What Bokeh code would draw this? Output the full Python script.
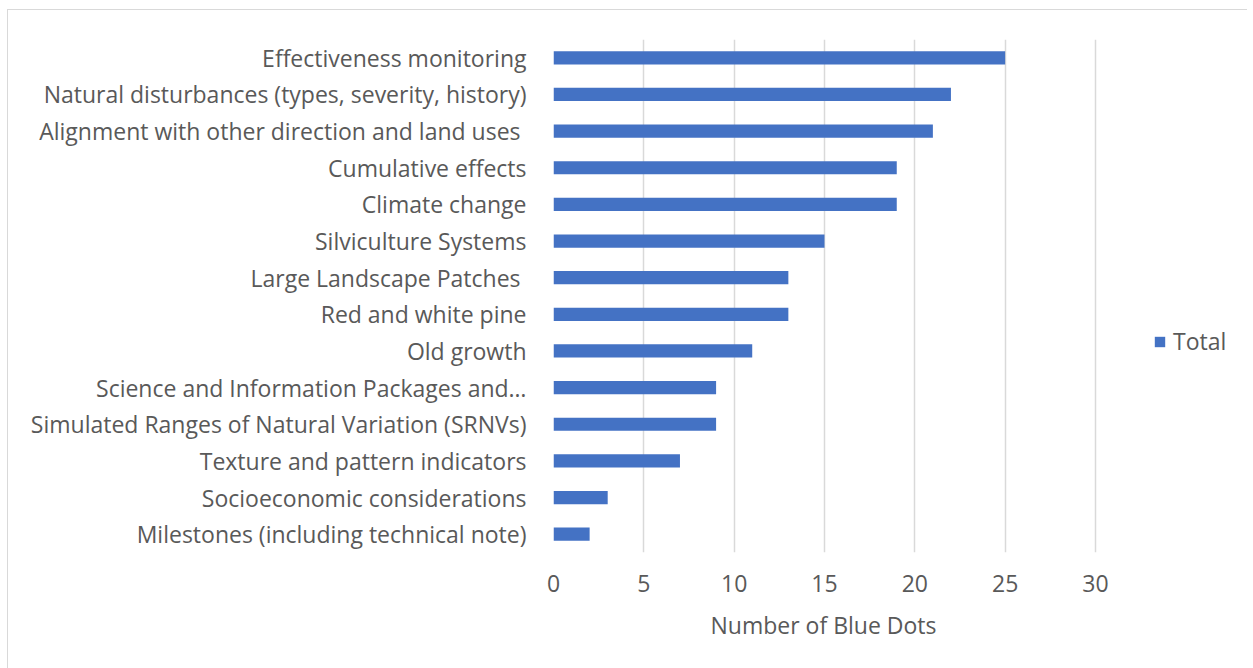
from bokeh.plotting import figure
from bokeh.models import ColumnDataSource, Legend, LegendItem, FactorRange, Title
from bokeh.embed import file_html
from bokeh.resources import INLINE

categories = [
    "Effectiveness monitoring",
    "Natural disturbances (types, severity, history)",
    "Alignment with other direction and land uses ",
    "Cumulative effects",
    "Climate change",
    "Silviculture Systems",
    "Large Landscape Patches ",
    "Red and white pine",
    "Old growth",
    "Science and Information Packages and…",
    "Simulated Ranges of Natural Variation (SRNVs)",
    "Texture and pattern indicators",
    "Socioeconomic considerations",
    "Milestones (including technical note)",
]
totals = [25, 22, 21, 19, 19, 15, 13, 13, 11, 9, 9, 7, 3, 2]
x_ticks = [0, 5, 10, 15, 20, 25, 30]
x_label = "Number of Blue Dots"
series_name = "Total"

FONT = "Open Sans"
FS = "23px"
TXT = "#595959"

src = ColumnDataSource(dict(cat=categories, total=totals))

# frame extends right of 30 to hold the legend; gridlines only at ticks 0..30
p = figure(
    y_range=FactorRange(factors=list(reversed(categories))),
    x_range=(0, 38.47),
    width=1240, height=659,
    output_backend="svg", toolbar_location=None,
    min_border_left=545, min_border_right=0,
    min_border_top=29, min_border_bottom=117,
)
p.styles = {"margin-left": "7px", "margin-top": "9px",
            "border-left": "1.5px solid #d9d9d9", "border-top": "1.5px solid #d9d9d9"}
p.outline_line_color = None
p.border_fill_color = "white"

r = p.hbar(y="cat", right="total", left=0, height=0.36, source=src,
           fill_color="#4472C4", line_color=None)

p.xaxis.ticker = x_ticks
p.xaxis.axis_line_color = None
p.xaxis.major_tick_line_color = None
p.xaxis.minor_tick_line_color = None
p.xaxis.major_label_text_font = FONT
p.xaxis.major_label_text_font_size = FS
p.xaxis.major_label_text_color = TXT
p.xaxis.major_label_standoff = 16

p.yaxis.axis_line_color = None
p.yaxis.major_tick_line_color = None
p.yaxis.minor_tick_line_color = None
p.yaxis.major_label_text_font = FONT
p.yaxis.major_label_text_font_size = FS
p.yaxis.major_label_text_color = TXT
p.yaxis.major_label_standoff = 21

p.xgrid.grid_line_color = "#d9d9d9"
p.xgrid.grid_line_width = 1.5
p.ygrid.grid_line_color = None

xt = Title(text=x_label, align="left", offset=157, standoff=24,
           text_font=FONT, text_font_size=FS, text_font_style="normal",
           text_color=TXT)
p.add_layout(xt, "below")

legend = Legend(items=[LegendItem(label=series_name, renderers=[r])],
                location=(600, 195), border_line_color=None,
                background_fill_alpha=0, padding=0, margin=0,
                glyph_width=13, glyph_height=13, label_standoff=7,
                label_text_font=FONT, label_text_font_size=FS,
                label_text_color=TXT)
p.add_layout(legend, "center")

open("out.html", "w").write(file_html(p, INLINE))
